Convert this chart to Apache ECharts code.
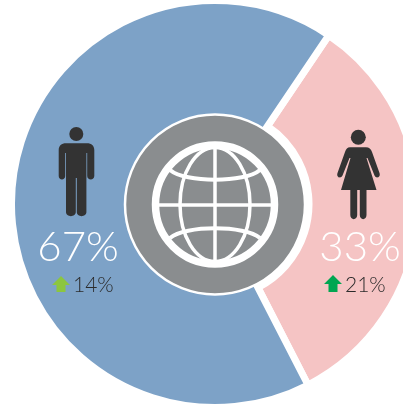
<!DOCTYPE html>
<html>
<head>
<meta charset="utf-8">
<style>
  html, body { margin: 0; padding: 0; background: #fff; overflow: hidden; }
  #chart { width: 403px; height: 405px; }
</style>
</head>
<body>
<div id="chart"></div>
<script src="https://cdn.jsdelivr.net/npm/echarts@6/dist/echarts.min.js"></script>
<script>
const groups = ['Female', 'Male'];
const shares = [33, 67];
const changes = [21, 14];
const sliceColors = ['#f5c4c4', '#7da2c7'];
const arrowColors = ['#00a651', '#8cc63f'];

const cx = 215, cy = 204;
const fontFamily = 'Lato, "Open Sans", sans-serif';

const manPath = 'M66 143.3 L87 143.3 C91.5 143.3 94.3 146 94.3 150 L94.3 176 C94.3 180.5 87.2 180.5 87.2 176 L87.2 153 L86.4 153 L86.4 212 C86.4 217.5 76.8 217.5 76.8 212 L76.8 178 L75.8 178 L75.8 212 C75.8 217.5 66 217.5 66 212 L66 153 L65.2 153 L65.2 176 C65.2 180.5 58.7 180.5 58.7 176 L58.7 150 C58.7 146 61.5 143.3 66 143.3 Z';
const womanPath = 'M350 147.3 L366 147.3 C369 147.3 371 149 372 152 L379.5 173 C381 177.5 376 179 374.5 175.5 L367.5 158 L366.5 158 L376.5 190 L366.5 190 L366.5 215 C366.5 220.5 359.8 220.5 359.8 215 L359.8 190 L357.2 190 L357.2 215 C357.2 220.5 350.3 220.5 350.3 215 L350.3 190 L341 190 L350.5 158 L349.5 158 L342.5 175.5 C341 179 336 177.5 337.5 173 L345 152 C346 149 347.5 147.3 350 147.3 Z';

echarts.graphic.registerShape('manIcon', echarts.graphic.extendPath(manPath, {}));
echarts.graphic.registerShape('womanIcon', echarts.graphic.extendPath(womanPath, {}));

function sliceSeries(index, innerRadius) {
  return {
    type: 'pie',
    center: [cx, cy],
    radius: [innerRadius, 203.5],
    startAngle: 56,
    silent: true,
    animation: false,
    label: { show: false },
    labelLine: { show: false },
    data: groups.map((name, i) => ({
      name: name,
      value: shares[i],
      itemStyle: i === index
        ? { color: sliceColors[i], borderColor: '#fff', borderWidth: 7 }
        : { color: 'transparent', borderWidth: 0 }
    }))
  };
}

function globeLine(shape, width) {
  return { type: 'bezierCurve', shape: shape, style: { stroke: '#fff', fill: null, lineWidth: width } };
}

const elements = [
  { type: 'circle', shape: { cx: cx, cy: cy + 0.5, r: 90 }, style: { fill: '#8a8d8f', stroke: '#fff', lineWidth: 2.5 } },
  { type: 'circle', shape: { cx: cx, cy: cy + 0.5, r: 59.5 }, style: { fill: 'none', stroke: '#fff', lineWidth: 7.5 } },
  { type: 'ellipse', shape: { cx: cx, cy: cy + 0.5, rx: 35, ry: 57 }, style: { fill: 'none', stroke: '#fff', lineWidth: 3.5 } },
  { type: 'line', shape: { x1: cx, y1: 147, x2: cx, y2: 262 }, style: { stroke: '#fff', lineWidth: 3.5 } },
  { type: 'line', shape: { x1: 157, y1: 205, x2: 273, y2: 205 }, style: { stroke: '#fff', lineWidth: 3.5 } },
  globeLine({ x1: 170, y1: 170, cpx1: 185, cpy1: 183, cpx2: 245, cpy2: 183, x2: 260, y2: 170 }, 4),
  globeLine({ x1: 170, y1: 238, cpx1: 185, cpy1: 225, cpx2: 245, cpy2: 225, x2: 260, y2: 238 }, 4),

  { type: 'circle', shape: { cx: 76.3, cy: 134, r: 7 }, style: { fill: '#333' } },
  { type: 'manIcon', style: { fill: '#333' } },
  { type: 'circle', shape: { cx: 358.3, cy: 137.3, r: 7.5 }, style: { fill: '#333' } },
  { type: 'womanIcon', style: { fill: '#333' } },

  { type: 'text', style: { x: 78, y: 247, text: shares[1] + '%', fill: '#fff', font: '300 42px ' + fontFamily, textAlign: 'center', textVerticalAlign: 'middle' } },
  { type: 'text', style: { x: 360, y: 247, text: shares[0] + '%', fill: '#fff', font: '300 42px ' + fontFamily, textAlign: 'center', textVerticalAlign: 'middle' } },

  { type: 'polygon', shape: { points: [[61, 276], [70, 285], [65.5, 285], [65.5, 292], [56.5, 292], [56.5, 285], [52, 285]] }, style: { fill: arrowColors[1] } },
  { type: 'polygon', shape: { points: [[333, 275], [342, 284], [337.5, 284], [337.5, 292], [328.5, 292], [328.5, 284], [324, 284]] }, style: { fill: arrowColors[0] } },
  { type: 'text', style: { x: 73, y: 285, text: changes[1] + '%', fill: '#2b2b2b', font: '300 21px ' + fontFamily, textAlign: 'left', textVerticalAlign: 'middle' } },
  { type: 'text', style: { x: 345, y: 285, text: changes[0] + '%', fill: '#2b2b2b', font: '300 21px ' + fontFamily, textAlign: 'left', textVerticalAlign: 'middle' } }
];

const option = {
  backgroundColor: '#fff',
  series: [sliceSeries(0, 94), sliceSeries(1, 85)],
  graphic: elements.map(el => ({ ...el, z: 20 }))
};

const chart = echarts.init(document.getElementById('chart'), null, { renderer: 'canvas' });
chart.setOption(option);
</script>
</body>
</html>
